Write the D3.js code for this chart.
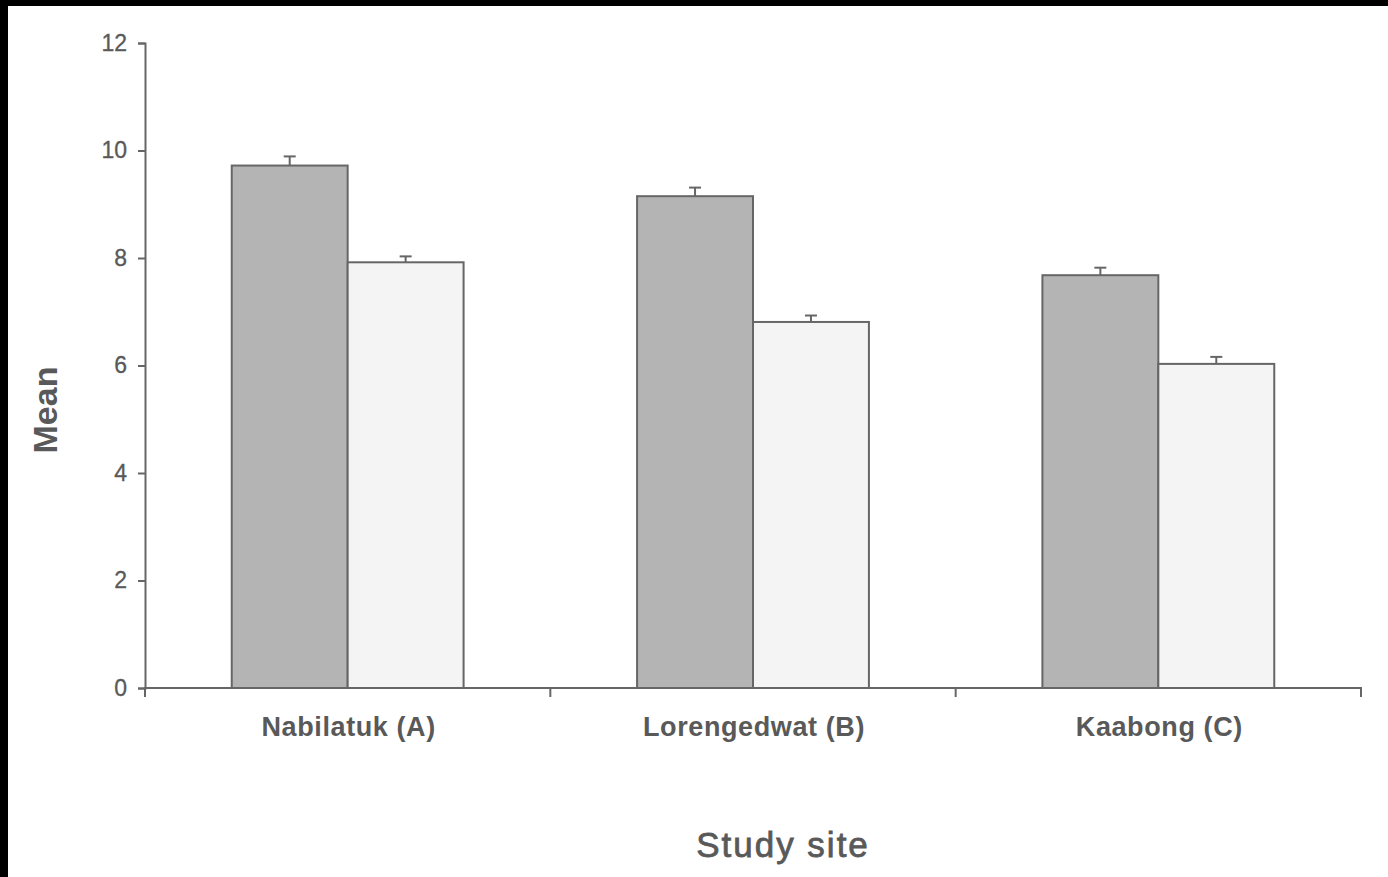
<!DOCTYPE html>
<html>
<head>
<meta charset="utf-8">
<script src="https://cdn.jsdelivr.net/npm/d3@7"></script>
<style>
  body { margin: 0; background: #fff; }
  svg { display: block; font-family: "Liberation Sans", Arial, sans-serif; }
</style>
</head>
<body>
<div id="chart"></div>
<script>
// data
const sites = ["Nabilatuk (A)", "Lorengedwat (B)", "Kaabong (C)"];
const darkMeans = [9.72, 9.15, 7.68];
const darkErr = [0.17, 0.16, 0.14];
const lightMeans = [7.92, 6.81, 6.03];
const lightErr = [0.11, 0.12, 0.13];
const yTicks = [0, 2, 4, 6, 8, 10, 12];

const width = 1388;
const height = 877;
const margin = {top: 43, left: 145, right: 27, bottom: 189};
const lineCol = "#666666";
const textCol = "#595959";

const svg = d3.select('#chart').append('svg')
    .attr('width', width)
    .attr('height', height);

// black frame strips at top / left of the picture
svg.append('rect').attr('x', 0).attr('y', 0).attr('width', width).attr('height', 6).attr('fill', '#000');
svg.append('rect').attr('x', 0).attr('y', 0).attr('width', 8).attr('height', height).attr('fill', '#000');

const x = d3.scaleBand()
    .domain(sites)
    .range([margin.left, width - margin.right])
    .paddingInner(0)
    .paddingOuter(0);

const y = d3.scaleLinear()
    .domain([0, 12])
    .range([height - margin.bottom, margin.top]);

const barW = x.bandwidth() * 0.286;

// build one row per bar
let bars = [];
sites.forEach((s, i) => {
    bars.push({site: s, k: 0, v: darkMeans[i], e: darkErr[i], fill: "#b4b4b4"});
    bars.push({site: s, k: 1, v: lightMeans[i], e: lightErr[i], fill: "#f4f4f4"});
});
const barX = d => x(d.site) + x.bandwidth() / 2 - barW + d.k * barW;

// error bars (drawn first so the bar outline sits on top)
const errG = svg.append('g').attr('class', 'err');
errG.selectAll('line.stem')
    .data(bars).enter().append('line')
    .attr('x1', d => barX(d) + barW / 2)
    .attr('x2', d => barX(d) + barW / 2)
    .attr('y1', d => y(d.v))
    .attr('y2', d => y(d.v + d.e))
    .attr('stroke', lineCol).attr('stroke-width', 2);
errG.selectAll('line.cap')
    .data(bars).enter().append('line')
    .attr('x1', d => barX(d) + barW / 2 - 6)
    .attr('x2', d => barX(d) + barW / 2 + 6)
    .attr('y1', d => y(d.v + d.e))
    .attr('y2', d => y(d.v + d.e))
    .attr('stroke', lineCol).attr('stroke-width', 2);

svg.append('g').attr('class', 'bars')
    .selectAll('rect')
    .data(bars).enter().append('rect')
    .attr('x', barX)
    .attr('y', d => y(d.v))
    .attr('width', barW)
    .attr('height', d => y(0) - y(d.v))
    .attr('fill', d => d.fill)
    .attr('stroke', lineCol)
    .attr('stroke-width', 2);

// y axis
const yAxis = svg.append('g')
    .attr('transform', `translate(${margin.left},0)`)
    .call(d3.axisLeft(y).tickValues(yTicks).tickFormat(d3.format('d')).tickSizeOuter(0).tickSize(7).tickPadding(11));
yAxis.select('.domain').attr('stroke', lineCol).attr('stroke-width', 2);
yAxis.selectAll('.tick line').attr('stroke', lineCol).attr('stroke-width', 2);
yAxis.selectAll('.tick text')
    .attr('fill', textCol)
    .attr('stroke', textCol)
    .attr('stroke-width', 0.3)
    .style('font-size', '23px')
    .style('font-family', '"Liberation Sans", Arial, sans-serif');

// x axis: line with ticks on the band edges
const xg = svg.append('g').attr('transform', `translate(0,${y(0)})`);
xg.append('line')
    .attr('x1', margin.left).attr('x2', width - margin.right)
    .attr('y1', 0).attr('y2', 0)
    .attr('stroke', lineCol).attr('stroke-width', 2);
const edges = sites.map(s => x(s)).concat([x(sites[sites.length - 1]) + x.bandwidth()]);
xg.selectAll('line.edge')
    .data(edges).enter().append('line')
    .attr('class', 'edge')
    .attr('x1', d => d).attr('x2', d => d)
    .attr('y1', -1).attr('y2', 9)
    .attr('stroke', lineCol).attr('stroke-width', 2);
xg.selectAll('text')
    .data(sites).enter().append('text')
    .attr('x', d => x(d) + x.bandwidth() / 2 + 1)
    .attr('y', 48)
    .attr('text-anchor', 'middle')
    .attr('fill', textCol)
    .style('font-size', '27px')
    .style('font-weight', 'bold')
    .style('letter-spacing', '0.6px')
    .text(d => d);

// axis titles
svg.append('text')
    .attr('x', 783)
    .attr('y', 857)
    .attr('text-anchor', 'middle')
    .attr('fill', textCol)
    .attr('stroke', textCol)
    .attr('stroke-width', 0.8)
    .style('font-size', '35px')
    .style('letter-spacing', '2px')
    .text('Study site');

svg.append('text')
    .attr('transform', 'translate(57,410) rotate(-90)')
    .attr('text-anchor', 'middle')
    .attr('fill', textCol)
    .style('font-size', '34px')
    .style('font-weight', 'bold')
    .text('Mean');
</script>
</body>
</html>
